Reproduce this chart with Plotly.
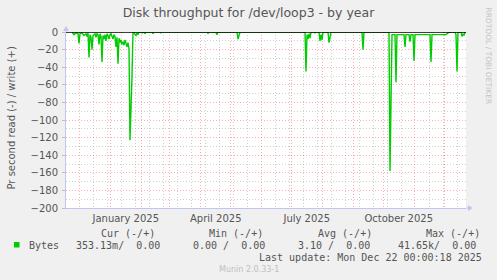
import plotly.graph_objects as go

# ---------------- data ----------------
read_dates = [
    "2024-11-24", "2024-11-26", "2024-11-28", "2024-11-30", "2024-12-01", "2024-12-02",
    "2024-12-04", "2024-12-06", "2024-12-08", "2024-12-09", "2024-12-10", "2024-12-11",
    "2024-12-12", "2024-12-13", "2024-12-14", "2024-12-15", "2024-12-17", "2024-12-18",
    "2024-12-19", "2024-12-20", "2024-12-21", "2024-12-22", "2024-12-23", "2024-12-24",
    "2024-12-25", "2024-12-26", "2024-12-27", "2024-12-28", "2024-12-29", "2024-12-30",
    "2024-12-31", "2025-01-01", "2025-01-02", "2025-01-03", "2025-01-04", "2025-01-05",
    "2025-01-06", "2025-01-07", "2025-01-08", "2025-01-09", "2025-01-10", "2025-01-11",
    "2025-01-12", "2025-01-13", "2025-01-14", "2025-01-15", "2025-01-16", "2025-01-17",
    "2025-01-18", "2025-01-19", "2025-01-20", "2025-01-21", "2025-01-22", "2025-01-23",
    "2025-01-24", "2025-01-25", "2025-01-26", "2025-01-27", "2025-01-28", "2025-01-29",
    "2025-01-30", "2025-02-01", "2025-02-02", "2025-02-04", "2025-02-05", "2025-02-06",
    "2025-02-12", "2025-02-13", "2025-02-14", "2025-02-20", "2025-02-21", "2025-02-22",
    "2025-04-08", "2025-04-09", "2025-04-10", "2025-04-17", "2025-04-18", "2025-04-19",
    "2025-05-08", "2025-05-09", "2025-05-10", "2025-05-11",
    "2025-07-15", "2025-07-16", "2025-07-17", "2025-07-18", "2025-07-19", "2025-07-20",
    "2025-07-21", "2025-07-24", "2025-07-25", "2025-07-26", "2025-07-29", "2025-07-30",
    "2025-07-31", "2025-08-01", "2025-08-02", "2025-08-07", "2025-08-08", "2025-08-09",
    "2025-08-10", "2025-09-10", "2025-09-11", "2025-09-12",
    "2025-10-07", "2025-10-08", "2025-10-09", "2025-10-10", "2025-10-13", "2025-10-14",
    "2025-10-15", "2025-10-22", "2025-10-23", "2025-10-24", "2025-10-27", "2025-10-28",
    "2025-10-29", "2025-10-31", "2025-11-01", "2025-11-02", "2025-11-17", "2025-11-18",
    "2025-11-19", "2025-12-03", "2025-12-05", "2025-12-07", "2025-12-12", "2025-12-13",
    "2025-12-14", "2025-12-15", "2025-12-18", "2025-12-19", "2025-12-20", "2025-12-21",
    "2025-12-22",
]
read_values = [
    0, -3, -1, -2, -13, -2,
    -1, -4, -2, -5, -1, -29,
    -3, -6, -20, -4, -2, -6,
    -2, -3, -14, -2, -5, -34,
    -4, -8, -3, -10, -2, -4,
    -8, -3, -2, -6, -8, -3,
    -5, -17, -6, -36, -7, -12,
    -9, -14, -11, -15, -9, -13,
    -17, -12, -19, -123, -95, -50,
    0, 0, -3, -4, -1, -3,
    0, 0, -1, 0, -2, 0,
    0, -2, 0, 0, -1, 0,
    0, -1.5, 0, 0, -3, 0,
    0, -8, -4, 0,
    0, -45, -3, -8, -2, -7,
    0, 0, -1, 0, 0, -10,
    -3, -9, 0, 0, -12, -5,
    0, 0, -20, 0,
    0, -158, -80, -3, -3, -57,
    -3, -3, -17, -3, -3, -11,
    -3, -3, -33, -3, -3, -34,
    -3, -3, -1, 0, 0, -3,
    -45, 0, 0, -5, -2, -4,
    0,
]

x_start, x_end = "2024-11-18", "2025-12-23"
y_min, y_max = -200, 0
month_starts = [
    "2024-12-01", "2025-01-01", "2025-02-01", "2025-03-01", "2025-04-01", "2025-05-01",
    "2025-06-01", "2025-07-01", "2025-08-01", "2025-09-01", "2025-10-01", "2025-11-01",
    "2025-12-01",
]
minor_lines = [
    "2024-12-15", "2025-01-12", "2025-01-26", "2025-02-09", "2025-02-23", "2025-03-09",
    "2025-03-23", "2025-04-06", "2025-04-20", "2025-05-04", "2025-05-18", "2025-06-15",
    "2025-06-29", "2025-07-13", "2025-07-27", "2025-08-10", "2025-08-24", "2025-09-07",
    "2025-09-21", "2025-10-05", "2025-10-19", "2025-11-16", "2025-11-30", "2025-12-14",
    "2024-11-17", "2024-12-29",
]
label_dates = ["2025-01-16 18:00", "2025-04-16 18:00", "2025-07-16 18:00", "2025-10-16 18:00"]
label_texts = ["January 2025", "April 2025", "July 2025", "October 2025"]

title_text = "Disk throughput for /dev/loop3 - by year"
y_title = "Pr second read (-) / write (+)"
series_name = "Bytes"
legend_headers = ["Cur (-/+)", "Min (-/+)", "Avg (-/+)", "Max (-/+)"]
legend_values = ["353.13m/  0.00", "0.00 /  0.00", "3.10 /  0.00", "41.65k/  0.00"]
last_update = "Last update: Mon Dec 22 00:00:18 2025"
version_text = "Munin 2.0.33-1"
side_text = "RRDTOOL / TOBI OETIKER"

# ---------------- layout geometry ----------------
W, H = 497, 280
ML, MR, MT, MB = 66, 31, 32, 72
PW, PH = W - ML - MR, H - MT - MB


def px(x):
    return (x - ML) / PW


def py(y):
    return (H - MB - y) / PH


GREEN = "#00CC00"
TEXT = "#555555"
AXIS = "#C4C4F0"
RED_GRID = "rgba(255,0,0,0.32)"
GRAY_GRID = "rgba(170,170,170,0.55)"
SANS = "DejaVu Sans"
MONO = "DejaVu Sans Mono"

fig = go.Figure()
fig.add_trace(go.Scatter(
    x=read_dates, y=read_values, mode="lines",
    line=dict(color=GREEN, width=1.4), hoverinfo="skip", showlegend=False,
))
fig.add_trace(go.Scatter(
    x=label_dates, y=[y_min] * len(label_dates), xaxis="x2", mode="markers",
    marker=dict(opacity=0), hoverinfo="skip", showlegend=False,
))

fig.update_layout(
    width=W, height=H,
    margin=dict(l=ML, r=MR, t=MT, b=MB, pad=0),
    paper_bgcolor="#F0F0F0", plot_bgcolor="#FFFFFF",
    font=dict(family=SANS, size=10, color=TEXT),
    title=dict(text=title_text, x=0.5, xanchor="center", y=1 - 12.5 / H, yanchor="middle",
               font=dict(family=SANS, size=12.5, color=TEXT)),
    xaxis=dict(
        type="date", range=[x_start, x_end],
        tickmode="array", tickvals=month_starts, showticklabels=False, ticks="",
        showgrid=True, gridcolor=RED_GRID, griddash="1px,2px", gridwidth=1,
        minor=dict(tickmode="array", tickvals=minor_lines, showgrid=True,
                   gridcolor=GRAY_GRID, griddash="1px,2px", gridwidth=1, ticks=""),
        showline=True, linecolor=AXIS, linewidth=1, zeroline=False, fixedrange=True,
    ),
    xaxis2=dict(
        type="date", range=[x_start, x_end], overlaying="x", anchor="y", side="bottom",
        tickmode="array", tickvals=label_dates, ticktext=label_texts, ticks="",
        ticklabelstandoff=3,
        showgrid=False, showline=False, zeroline=False,
        tickfont=dict(family=SANS, size=10, color=TEXT),
    ),
    yaxis=dict(
        range=[y_min, y_max], tickmode="linear", tick0=0, dtick=20,
        showgrid=True, gridcolor=RED_GRID, griddash="1px,2px", gridwidth=1,
        minor=dict(dtick=10, tick0=0, showgrid=True, gridcolor=GRAY_GRID,
                   griddash="1px,2px", gridwidth=1),
        zeroline=False,
        showline=True, linecolor=AXIS, linewidth=1,
        ticks="outside", ticklen=3, tickcolor="#BBBBBB", ticklabelstandoff=2,
        tickfont=dict(family=SANS, size=10, color=TEXT),
    ),
)

# y-axis title and decorative text
ann = [
    dict(text=y_title, x=px(11), y=py(117.5), textangle=-90,
         font=dict(family=SANS, size=10, color=TEXT)),
    dict(text=side_text, x=px(488), y=py(5), yanchor="top", textangle=90,
         font=dict(family=SANS, size=7.5, color="#C4C4C4")),
    dict(text=version_text, x=px(248.5), y=py(269.5),
         font=dict(family=SANS, size=8, color="#C0C0C0")),
    dict(text=series_name, x=px(26.5), y=py(245.5), xanchor="left",
         font=dict(family=MONO, size=10, color=TEXT)),
    dict(text=last_update, x=px(483.5), y=py(257.5), xanchor="right",
         font=dict(family=MONO, size=10, color=TEXT)),
]
for txt, x0 in zip(legend_headers, [99, 207.3, 315.7, 424]):
    ann.append(dict(text=txt, x=px(x0), y=py(233.5), xanchor="left",
                    font=dict(family=MONO, size=10, color=TEXT)))
for txt, x1 in zip(legend_values, [161.5, 267, 372, 478]):
    ann.append(dict(text=txt, x=px(x1), y=py(245.5), xanchor="right",
                    font=dict(family=MONO, size=10, color=TEXT)))
for a in ann:
    a.update(xref="paper", yref="paper", showarrow=False)
    a.setdefault("xanchor", "center")
    a.setdefault("yanchor", "middle")
fig.update_layout(annotations=ann)

# zero rule, axis arrows, axis extensions and legend swatch
shapes = [
    dict(type="line", xref="paper", yref="y", x0=0, x1=1, y0=0, y1=0, layer="above",
         line=dict(color="#000000", width=1.6)),
    dict(type="line", xref="paper", yref="paper", x0=0, x1=0, y0=1, y1=py(28),
         line=dict(color=AXIS, width=1)),
    dict(type="path", xref="paper", yref="paper",
         path=f"M {px(63)} {py(31)} L {px(69)} {py(31)} L {px(66)} {py(26)} Z",
         fillcolor=AXIS, line=dict(width=0)),
    dict(type="line", xref="paper", yref="paper", x0=1, x1=px(470), y0=0, y1=0,
         line=dict(color=AXIS, width=1)),
    dict(type="path", xref="paper", yref="paper",
         path=f"M {px(468)} {py(205)} L {px(468)} {py(211)} L {px(473)} {py(208)} Z",
         fillcolor=AXIS, line=dict(width=0)),
    dict(type="rect", xref="paper", yref="paper",
         x0=px(14), x1=px(19.5), y0=py(247.5), y1=py(242),
         fillcolor=GREEN, line=dict(width=0)),
]
fig.update_layout(shapes=shapes)

fig.write_html("out.html")
